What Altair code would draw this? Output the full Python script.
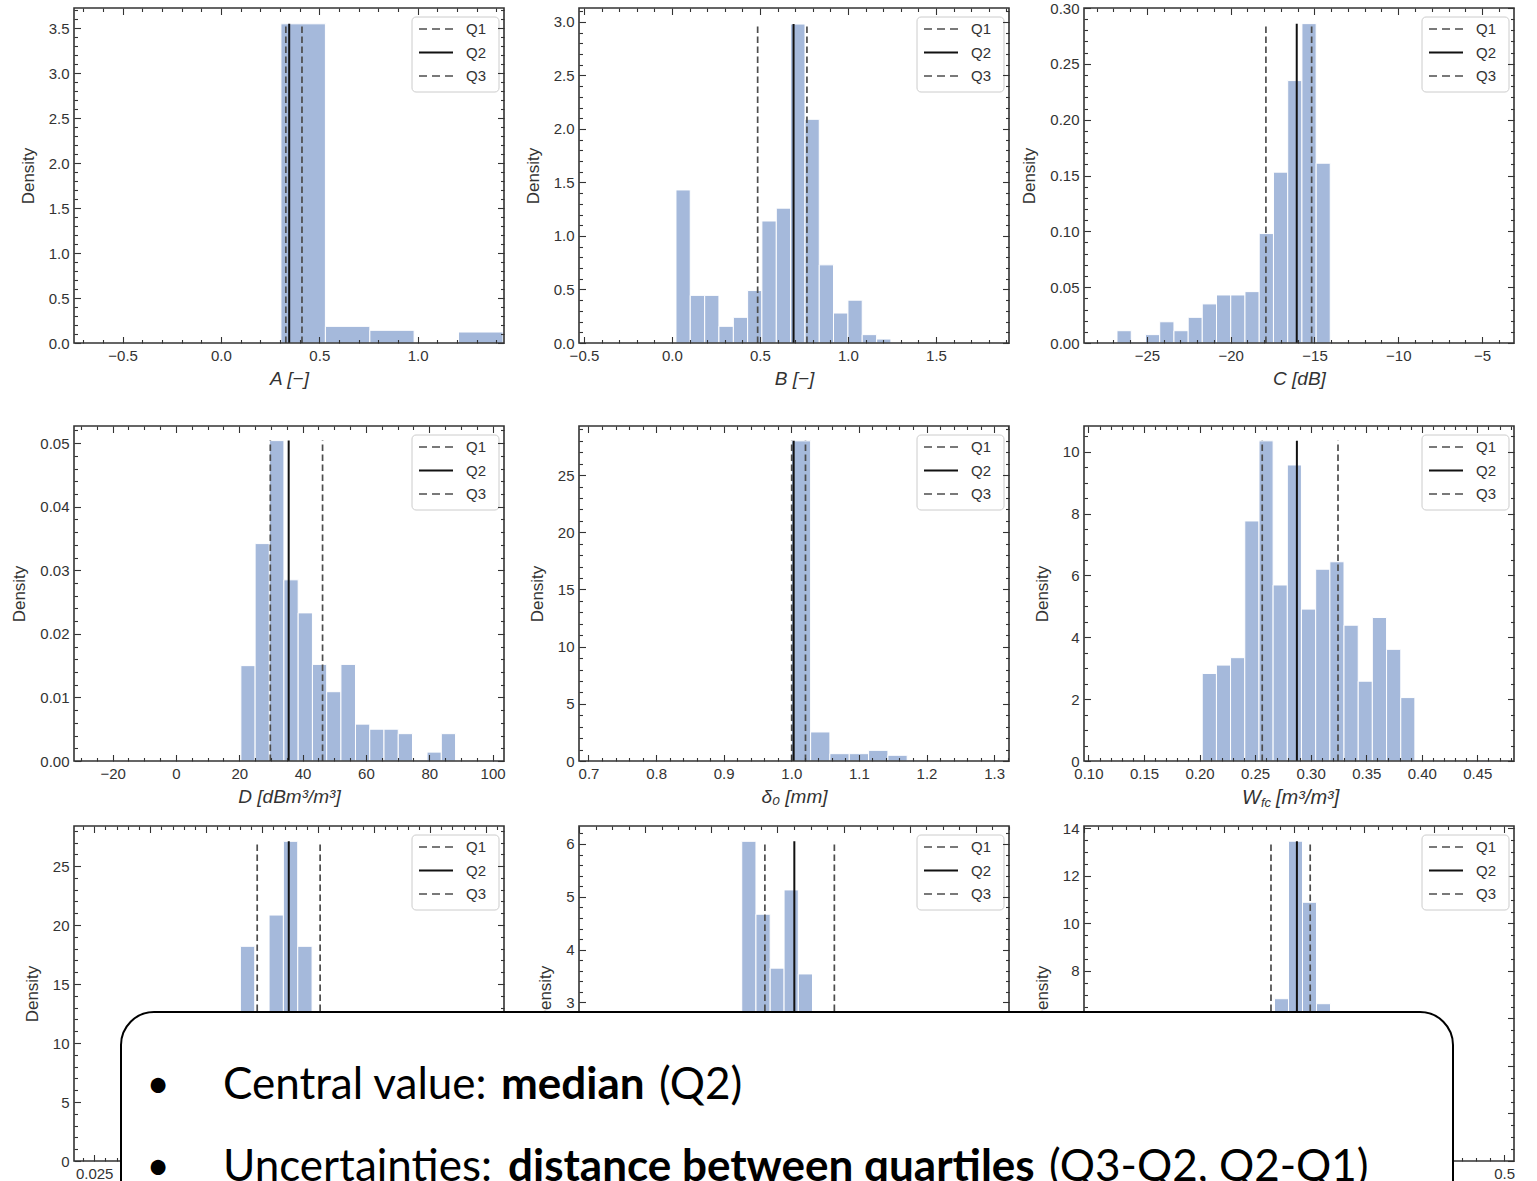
import altair as alt
import numpy as np
import pandas as pd

PW, PH = 430, 335
INK = "#333333"
BAR_FILL = "#a5b9db"
DASH_COLOR = "#4d4d4d"
AXFONT = "Liberation Sans"
SLIDE_FONT = "Lato"

QLABELS = ["Q1", "Q2", "Q3"]

# ---------------- values ----------------
# A [-]
A_XDOM = [-0.747, 1.439]
A_YDOM = [0.0, 3.726]
A_XTICKS = [-0.5, 0.0, 0.5, 1.0]
A_YTICKS = [0.0, 0.5, 1.0, 1.5, 2.0, 2.5, 3.0, 3.5]
A_EDGES = [0.305, 0.531, 0.757, 0.982, 1.208, 1.434]
A_DENS = [3.55, 0.185, 0.141, 0.0, 0.122]
A_Q = [0.330, 0.347, 0.412]

# B [-]
B_XDOM = [-0.528, 1.915]
B_YDOM = [0.0, 3.13]
B_XTICKS = [-0.5, 0.0, 0.5, 1.0, 1.5]
B_YTICKS = [0.0, 0.5, 1.0, 1.5, 2.0, 2.5, 3.0]
B_EDGES = [0.023, 0.104, 0.186, 0.267, 0.349, 0.430, 0.511, 0.593, 0.674, 0.756,
           0.837, 0.918, 1.000, 1.081, 1.163, 1.244]
B_DENS = [1.43, 0.445, 0.445, 0.156, 0.24, 0.49, 1.14, 1.26, 2.98, 2.09, 0.73, 0.28,
          0.40, 0.078, 0.037]
B_Q = [0.487, 0.691, 0.767]

# C [dB]
C_XDOM = [-28.76, -3.09]
C_YDOM = [0.0, 0.30]
C_XTICKS = [-25, -20, -15, -10, -5]
C_YTICKS = [0.0, 0.05, 0.10, 0.15, 0.20, 0.25, 0.30]
C_EDGES = [-26.79, -25.94, -25.09, -24.24, -23.39, -22.54, -21.70, -20.85, -20.00,
           -19.15, -18.30, -17.45, -16.60, -15.75, -14.90, -14.06]
C_DENS = [0.011, 0.0, 0.0075, 0.019, 0.011, 0.023, 0.035, 0.043, 0.043, 0.046, 0.098,
          0.153, 0.235, 0.286, 0.161]
C_Q = [-17.90, -16.06, -15.17]

# D [dBm3/m3]
D_XDOM = [-32.2, 103.6]
D_YDOM = [0.0, 0.0527]
D_XTICKS = [-20, 0, 20, 40, 60, 80, 100]
D_YTICKS = [0.0, 0.01, 0.02, 0.03, 0.04, 0.05]
D_EDGES = [20.5, 25.0, 29.5, 34.1, 38.6, 43.1, 47.6, 52.1, 56.7, 61.2, 65.7, 70.2,
           74.7, 79.3, 83.8, 88.3]
D_DENS = [0.0150, 0.0342, 0.0504, 0.0285, 0.0233, 0.0152, 0.0109, 0.0152, 0.0058,
          0.0050, 0.0050, 0.0043, 0.0, 0.0014, 0.0043]
D_Q = [29.8, 35.6, 46.3]

# delta0 [mm]
E_XDOM = [0.686, 1.322]
E_YDOM = [0.0, 29.3]
E_XTICKS = [0.7, 0.8, 0.9, 1.0, 1.1, 1.2, 1.3]
E_YTICKS = [0, 5, 10, 15, 20, 25]
E_EDGES = [1.000, 1.0286, 1.0571, 1.0857, 1.1143, 1.1429, 1.1714, 1.2000, 1.2286]
E_DENS = [28.0, 2.54, 0.64, 0.64, 0.93, 0.50, 0.07, 0.05]
E_Q = [1.0006, 1.0035, 1.021]

# W_fc [m3/m3]
F_XDOM = [0.096, 0.483]
F_YDOM = [0.0, 10.83]
F_XTICKS = [0.10, 0.15, 0.20, 0.25, 0.30, 0.35, 0.40, 0.45]
F_YTICKS = [0, 2, 4, 6, 8, 10]
F_EDGES = [0.2024, 0.2152, 0.2279, 0.2407, 0.2535, 0.2662, 0.2790, 0.2917, 0.3045,
           0.3173, 0.3300, 0.3428, 0.3555, 0.3683, 0.3811, 0.3938]
F_DENS = [2.83, 3.10, 3.34, 7.76, 10.35, 5.69, 9.57, 4.91, 6.20, 6.44, 4.39, 2.58,
          4.64, 3.61, 2.05]
F_Q = [0.2564, 0.2876, 0.3246]

# third row (partly hidden by the text box)
G_XDOM = [0.016, 0.208]
G_YDOM = [0.0, 28.4]
G_XTICKS = [0.025, 0.05, 0.075, 0.1, 0.125, 0.15, 0.175, 0.2]
G_XLABELS = [0.025]
G_YTICKS = [0, 5, 10, 15, 20, 25]
G_EDGES = [0.0903, 0.0967, 0.1031, 0.1095, 0.1159, 0.1223]
G_DENS = [18.2, 0.0, 20.85, 27.1, 18.2]
G_Q = [0.0978, 0.1119, 0.1259]

H_XDOM = [0.0, 1.3]
H_YDOM = [0.0, 6.34]
H_XTICKS = [0.0, 0.2, 0.4, 0.6, 0.8, 1.0, 1.2]
H_XLABELS = []
H_YTICKS = [0, 1, 2, 3, 4, 5, 6]
H_YLABELS = [3, 4, 5, 6]
H_EDGES = [0.492, 0.535, 0.578, 0.620, 0.663, 0.706, 0.749, 0.792]
H_DENS = [6.05, 4.67, 3.65, 5.13, 3.54, 2.0, 1.2]
H_Q = [0.562, 0.651, 0.772]

I_XDOM = [-0.1, 0.514]
I_YDOM = [0.0, 14.1]
I_XTICKS = [-0.1, 0.0, 0.1, 0.2, 0.3, 0.4, 0.5]
I_XLABELS = [0.5]
I_YTICKS = [0, 2, 4, 6, 8, 10, 12, 14]
I_YLABELS = [8, 10, 12, 14]
I_EDGES = [0.152, 0.172, 0.192, 0.212, 0.232, 0.252, 0.272]
I_DENS = [3.0, 6.83, 13.46, 10.89, 6.62, 2.5]
I_Q = [0.167, 0.204, 0.223]

# text box
LINE1 = [("Central value: ", "normal"), ("median", "bold"), ("(Q2)", "normal")]
LINE2 = [("Uncertainties: ", "normal"), ("distance between quartiles", "bold"),
         ("(Q3-Q2, Q2-Q1)", "normal")]
W_TITLE = [("W", 20), ("fc", 13), ("[m³/m³]", 20)]

PANELS = [
    dict(xtitle="A [−]", xdom=A_XDOM, ydom=A_YDOM, xmaj=A_XTICKS, ymaj=A_YTICKS, xmin=0.1, ymin=0.1,
         xfmt=".1f", yfmt=".1f", edges=A_EDGES, dens=A_DENS, q=A_Q),
    dict(xtitle="B [−]", xdom=B_XDOM, ydom=B_YDOM, xmaj=B_XTICKS, ymaj=B_YTICKS, xmin=0.1, ymin=0.1,
         xfmt=".1f", yfmt=".1f", edges=B_EDGES, dens=B_DENS, q=B_Q),
    dict(xtitle="C [dB]", xdom=C_XDOM, ydom=C_YDOM, xmaj=C_XTICKS, ymaj=C_YTICKS, xmin=1, ymin=0.01,
         xfmt="d", yfmt=".2f", edges=C_EDGES, dens=C_DENS, q=C_Q),
    dict(xtitle="D [dBm³/m³]", xdom=D_XDOM, ydom=D_YDOM, xmaj=D_XTICKS, ymaj=D_YTICKS, xmin=5, ymin=0.002,
         xfmt="d", yfmt=".2f", edges=D_EDGES, dens=D_DENS, q=D_Q),
    dict(xtitle="δ₀ [mm]", xdom=E_XDOM, ydom=E_YDOM, xmaj=E_XTICKS, ymaj=E_YTICKS, xmin=0.02, ymin=1,
         xfmt=".1f", yfmt="d", edges=E_EDGES, dens=E_DENS, q=E_Q),
    dict(xtitle="", wtitle=True, xdom=F_XDOM, ydom=F_YDOM, xmaj=F_XTICKS, ymaj=F_YTICKS, xmin=0.01, ymin=0.5,
         xfmt=".2f", yfmt="d", edges=F_EDGES, dens=F_DENS, q=F_Q),
    dict(xtitle="", xdom=G_XDOM, ydom=G_YDOM, xmaj=G_XTICKS, xlab=G_XLABELS, ymaj=G_YTICKS, xmin=0.005,
         ymin=1, xfmt=".3f", yfmt="d", edges=G_EDGES, dens=G_DENS, q=G_Q),
    dict(xtitle="", xdom=H_XDOM, ydom=H_YDOM, xmaj=H_XTICKS, xlab=H_XLABELS, ymaj=H_YTICKS, ylab=H_YLABELS,
         xmin=0.05, ymin=0.2, xfmt=".1f", yfmt="d", edges=H_EDGES, dens=H_DENS, q=H_Q),
    dict(xtitle="", xdom=I_XDOM, ydom=I_YDOM, xmaj=I_XTICKS, xlab=I_XLABELS, ymaj=I_YTICKS, ylab=I_YLABELS,
         xmin=0.02, ymin=0.5, xfmt=".1f", yfmt="d", edges=I_EDGES, dens=I_DENS, q=I_Q),
]

# layout constants (pixels, page coordinates)
ROW1_EXTRA = 18                    # extra empty cell height under the first row
ORIGIN_LAST = (1083, 826)          # top-left of last panel's plot area
BOX = (120, 1012, 1452, 1240)
BULLET_X = 157
LINE_BASE = [1099, 1181]
LINE1_X = [222, 500, 658]
LINE2_X = [222, 507, 1048]
LABEL_SIZE = 15


def minor_values(dom, step, majors):
    k0 = int(np.ceil(dom[0] / step - 1e-6))
    k1 = int(np.floor(dom[1] / step + 1e-6))
    out = []
    for k in range(k0, k1 + 1):
        v = round(k * step, 6)
        if all(abs(v - m) > step * 0.05 for m in majors):
            out.append(v)
    return out


def tick_axis(orient, offset, values, size, z):
    return alt.Axis(orient=orient, offset=offset, values=values, labels=False, domain=False,
                    ticks=True, tickSize=size, tickColor=INK, tickWidth=1.1, grid=False,
                    title=None, minExtent=0, zindex=z)


def one(text=""):
    return pd.DataFrame({"t": [text]})


def build_panel(p, extra_h=0, overlay=False):
    cell_h = PH + extra_h
    xs = alt.Scale(domain=p["xdom"], nice=False, zero=False)
    ys = alt.Scale(domain=p["ydom"], nice=False, zero=False, range=[PH, 0])
    e, d = p["edges"], p["dens"]
    bdf = pd.DataFrame({"x0": e[:-1], "x1": e[1:], "h": d})
    bdf = bdf[bdf["h"] > 0].reset_index(drop=True)
    bdf["zero"] = 0.0

    xlab = p.get("xlab", p["xmaj"])
    ylab = p.get("ylab", p["ymaj"])
    xaxis_kw = dict(orient="bottom", offset=-extra_h, format=p["xfmt"], ticks=False, domain=False,
                    grid=False, labelPadding=5, labelFontSize=LABEL_SIZE, labelFlush=False,
                    labelOverlap=False, title=(p["xtitle"] if p["xtitle"] else None), titlePadding=6,
                    titleFontSize=19, titleFontStyle="italic", titleFontWeight="normal")
    if len(xlab) > 0:
        xaxis_kw["values"] = xlab
    else:
        xaxis_kw["labels"] = False
    xaxis = alt.Axis(**xaxis_kw)
    yaxis = alt.Axis(orient="left", values=ylab, format=p["yfmt"], ticks=False, domain=False,
                     grid=False, labelPadding=5, labelFontSize=LABEL_SIZE, labelFlush=False,
                     labelOverlap=False, minExtent=0, title="Density", titlePadding=11, titleFontSize=17,
                     titleFontWeight="normal")

    bars = alt.Chart(bdf).mark_rect(fill=BAR_FILL, stroke="white", strokeWidth=1).encode(
        x=alt.X("x0:Q", scale=xs, axis=xaxis), x2="x1:Q",
        y=alt.Y("h:Q", scale=ys, axis=yaxis), y2="zero:Q")

    top = max(d)
    qdf = pd.DataFrame({"q": p["q"], "lo": 0.0, "hi": top, "k": QLABELS})
    qd = alt.Chart(qdf[qdf["k"] != "Q2"]).mark_rule(
        color=DASH_COLOR, strokeWidth=1.7, strokeDash=[6.5, 3.5]).encode(
        x=alt.X("q:Q", scale=xs, axis=None), y=alt.Y("lo:Q", scale=ys, axis=None), y2="hi:Q")
    qs = alt.Chart(qdf[qdf["k"] == "Q2"]).mark_rule(color="#111111", strokeWidth=2).encode(
        x=alt.X("q:Q", scale=xs, axis=None), y=alt.Y("lo:Q", scale=ys, axis=None), y2="hi:Q")

    frame = alt.Chart(one()).mark_rect(fill="white", fillOpacity=0, stroke=INK, strokeWidth=1.6).encode(
        x=alt.value(0), x2=alt.value(PW), y=alt.value(0), y2=alt.value(PH))

    z = 0 if overlay else 1
    xminv = minor_values(p["xdom"], p["xmin"], p["xmaj"])
    yminv = minor_values(p["ydom"], p["ymin"], p["ymaj"])
    ticks = []
    for xo, xoff, yo, xv, yv, sz in [("top", -PH, "right", p["xmaj"], p["ymaj"], 6.5),
                                     ("bottom", -cell_h, "left", p["xmaj"], p["ymaj"], 6.5),
                                     ("top", -PH, "right", xminv, yminv, 3.5),
                                     ("bottom", -cell_h, "left", xminv, yminv, 3.5)]:
        ticks.append(alt.Chart(bdf).mark_point(opacity=0).encode(
            x=alt.X("x0:Q", scale=xs, axis=tick_axis(xo, xoff, xv, sz, z)),
            y=alt.Y("h:Q", scale=ys, axis=tick_axis(yo, -PW, yv, sz, z))))

    leg = [alt.Chart(one()).mark_rect(fill="white", fillOpacity=0.85, stroke="#cccccc", strokeWidth=1,
                                      cornerRadius=4).encode(
        x=alt.value(338), x2=alt.value(425), y=alt.value(9), y2=alt.value(84))]
    for i, lab in enumerate(QLABELS):
        yy = 21 + 23.5 * i
        if lab == "Q2":
            rk = dict(color="#111111", strokeWidth=2)
        else:
            rk = dict(color=DASH_COLOR, strokeWidth=1.7, strokeDash=[8, 5])
        leg.append(alt.Chart(one()).mark_rule(**rk).encode(
            x=alt.value(345), x2=alt.value(379), y=alt.value(yy)))
        leg.append(alt.Chart(one(lab)).mark_text(align="left", baseline="middle", font=AXFONT,
                                                 fontSize=15, color=INK).encode(
            x=alt.value(392), y=alt.value(yy), text="t:N"))

    extra = []
    if p.get("wtitle"):
        xpos = [158, 177, 192]
        dy = [0, 5, 0]
        for (txt, fs), xp, o in zip(W_TITLE, xpos, dy):
            extra.append(alt.Chart(one(txt)).mark_text(
                align="left", baseline="middle", font=AXFONT, fontSize=fs, fontStyle="italic",
                color=INK).encode(x=alt.value(xp), y=alt.value(PH + 37 + o), text="t:N"))

    if overlay:
        ox, oy = ORIGIN_LAST
        extra.append(alt.Chart(one()).mark_rect(fill="white", stroke="black", strokeWidth=2,
                                                cornerRadius=33).encode(
            x=alt.value(BOX[0] - ox), x2=alt.value(BOX[2] - ox),
            y=alt.value(BOX[1] - oy), y2=alt.value(BOX[3] - oy)))
        for segs, xsx, base in [(LINE1, LINE1_X, LINE_BASE[0]), (LINE2, LINE2_X, LINE_BASE[1])]:
            extra.append(alt.Chart(one("•")).mark_text(
                align="center", baseline="alphabetic", font=SLIDE_FONT, fontSize=40,
                color="black").encode(x=alt.value(BULLET_X - ox), y=alt.value(base - oy - 1), text="t:N"))
            for (txt, wt), xp in zip(segs, xsx):
                extra.append(alt.Chart(one(txt)).mark_text(
                    align="left", baseline="alphabetic", font=SLIDE_FONT, fontSize=44,
                    fontWeight=wt, color="black").encode(
                    x=alt.value(xp - ox), y=alt.value(base - oy), text="t:N"))

    layers = [bars, qd, qs, frame] + ticks + leg + extra
    return alt.layer(*layers).resolve_axis(x="independent", y="independent").properties(
        width=PW, height=cell_h)


charts = []
for i, p in enumerate(PANELS):
    charts.append(build_panel(p, extra_h=(ROW1_EXTRA if i < 3 else 0),
                              overlay=(i == len(PANELS) - 1)))

chart = alt.concat(*charts, columns=3, spacing={"row": 65, "column": 75}, bounds="flush",
                   align="each").properties(
    padding={"left": 10, "top": 1, "right": 2, "bottom": 0}, background="white"
).configure_view(strokeWidth=0).configure_axis(
    labelFont=AXFONT, titleFont=AXFONT, labelColor=INK, titleColor=INK)

chart.save("out.html", embed_options={"renderer": "svg", "actions": False})
